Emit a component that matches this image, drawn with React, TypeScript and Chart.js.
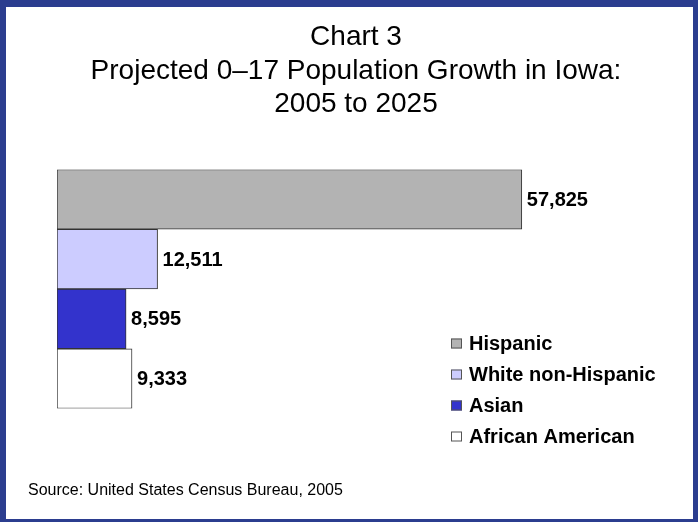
import React, { useEffect, useRef } from "react";
import { Chart, registerables } from "chart.js";

Chart.register(...registerables);

const titleLines = ["Chart 3", "Projected 0–17 Population Growth in Iowa:", "2005 to 2025"];
const sourceText = "Source: United States Census Bureau, 2005";
const categories = [""];
const groups = ["Hispanic", "White non-Hispanic", "Asian", "African American"];
const growth = [57825, 12511, 8595, 9333];
const fills = ["#b3b3b3", "#ccccff", "#3333cc", "#ffffff"];
const axisMax = 78000;

const FONT = "'Liberation Sans', Arial, Helvetica, sans-serif";

const valueLabels = {
  id: "valueLabels",
  afterDatasetsDraw(chart: any) {
    const ctx = chart.ctx;
    ctx.save();
    ctx.font = `bold 20px ${FONT}`;
    ctx.fillStyle = "#000";
    ctx.textAlign = "left";
    ctx.textBaseline = "middle";
    chart.data.datasets.forEach((ds: any, i: number) => {
      const meta = chart.getDatasetMeta(i);
      meta.data.forEach((el: any, j: number) => {
        const v = ds.data[j];
        if (v == null) return;
        ctx.fillText(Number(v).toLocaleString("en-US"), el.x + 5, el.y + 1);
      });
    });
    ctx.restore();
  },
};

const sideLegend = {
  id: "sideLegend",
  afterDraw(chart: any, _args: any, opts: any) {
    const ctx = chart.ctx;
    ctx.save();
    ctx.font = `bold 20px ${FONT}`;
    ctx.textAlign = "left";
    ctx.textBaseline = "middle";
    chart.data.datasets.forEach((ds: any, i: number) => {
      const cy = opts.y + i * opts.spacing;
      ctx.fillStyle = ds.backgroundColor;
      ctx.fillRect(opts.x, cy - 5, 11, 10);
      ctx.strokeStyle = "#555";
      ctx.lineWidth = 1;
      ctx.strokeRect(opts.x + 0.5, cy - 4.5, 10, 9);
      ctx.fillStyle = "#000";
      ctx.fillText(ds.label, opts.x + 18, cy + 1);
    });
    ctx.restore();
  },
};

export default function App() {
  const ref = useRef<HTMLCanvasElement | null>(null);

  useEffect(() => {
    if (!ref.current) return;
    const chart = new Chart(ref.current, {
      type: "bar",
      data: {
        labels: categories,
        datasets: groups.map((g, i) => ({
          label: g,
          data: [growth[i]],
          backgroundColor: fills[i],
          borderColor: "#333333",
          borderWidth: 1,
          borderSkipped: false,
          barPercentage: 1,
          categoryPercentage: 1,
        })),
      },
      options: {
        indexAxis: "y",
        animation: false,
        responsive: false,
        events: [],
        layout: { padding: { left: 28, right: 14, top: 0, bottom: 0 } },
        scales: {
          x: { display: false, min: 0, max: axisMax },
          y: {
            display: true,
            grid: { display: false },
            border: { display: false },
            ticks: { display: false },
            afterFit: (s: any) => {
              s.width = 29;
            },
          },
        },
        plugins: {
          legend: { display: false },
          tooltip: { enabled: false },
          title: {
            display: true,
            text: titleLines,
            color: "#000",
            font: { family: FONT, size: 28, weight: "normal", lineHeight: 1.21 },
            padding: { top: 20, bottom: 47.9 },
          },
          subtitle: {
            display: true,
            position: "bottom",
            align: "start",
            text: sourceText,
            color: "#000",
            font: { family: FONT, size: 16, weight: "normal", lineHeight: 1.2 },
            padding: { top: 72.9, bottom: 21.4 },
          },
          sideLegend: { x: 451, y: 343.5, spacing: 31 },
        } as any,
      },
      plugins: [valueLabels, sideLegend],
    });
    return () => chart.destroy();
  }, []);

  return (
    <div
      style={{
        position: "fixed",
        left: 0,
        top: 0,
        width: 698,
        height: 522,
        background: "#fff",
        overflow: "hidden",
      }}
    >
      <canvas
        ref={ref}
        width={698}
        height={522}
        style={{ position: "absolute", left: 0, top: 0, width: 698, height: 522 }}
      />
      <div
        style={{
          position: "absolute",
          inset: 0,
          boxSizing: "border-box",
          borderStyle: "solid",
          borderColor: "#2b3d8f",
          borderWidth: "7px 5px 3px 6px",
          pointerEvents: "none",
        }}
      />
    </div>
  );
}
